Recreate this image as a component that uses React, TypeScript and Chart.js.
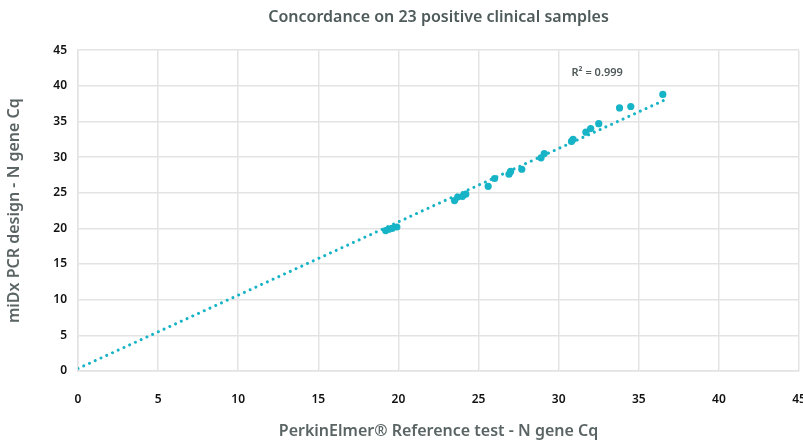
import React, { useEffect, useRef } from "react";
import { Chart, registerables } from "chart.js";

Chart.register(...registerables);

const refX = [19.2, 19.4, 19.6, 19.9, 23.5, 23.7, 24.0, 24.2, 25.6, 26.0, 26.9, 27.0, 27.7, 28.9, 29.1, 30.8, 30.9, 31.7, 32.0, 32.5, 33.8, 34.5, 36.5];
const midxY = [19.7, 19.9, 20.0, 20.2, 23.9, 24.4, 24.5, 24.8, 25.9, 27.0, 27.6, 28.0, 28.3, 29.9, 30.5, 32.2, 32.5, 33.5, 34.0, 34.7, 36.9, 37.1, 38.8];
const trendX = [0, 36.6];
const trendY = [0.35, 38.0];
const axisTicks = [0, 5, 10, 15, 20, 25, 30, 35, 40, 45];
const r2Label = "R² = 0.999";
const r2Pos = { x: 32.4, y: 41.8 };

const FONT = "'Noto Sans', 'DejaVu Sans', sans-serif";
const TEAL = "#17b3c6";

export default function App() {
  const ref = useRef<HTMLCanvasElement | null>(null);
  useEffect(() => {
    document.body.style.margin = "0";
    const ctx = ref.current!;
    const r2Plugin = {
      id: "r2",
      afterDatasetsDraw(chart: any) {
        const c = chart.ctx;
        const xs = chart.scales.x;
        const ys = chart.scales.y;
        c.save();
        c.font = `600 11px ${FONT}`;
        c.fillStyle = "#505a5a";
        c.textAlign = "center";
        c.textBaseline = "middle";
        c.fillText(r2Label, xs.getPixelForValue(r2Pos.x), ys.getPixelForValue(r2Pos.y));
        c.restore();
      },
    };
    const chart = new Chart(ctx, {
      type: "scatter",
      data: {
        datasets: [
          {
            type: "line",
            data: trendX.map((x, i) => ({ x, y: trendY[i] })),
            borderColor: TEAL,
            borderWidth: 3,
            borderDash: [0.01, 6.3],
            borderCapStyle: "round",
            pointRadius: 0,
            fill: false,
            order: 2,
          } as any,
          {
            data: refX.map((x, i) => ({ x, y: midxY[i] })),
            backgroundColor: TEAL,
            borderColor: TEAL,
            pointRadius: 3.6,
            borderWidth: 0,
            order: 1,
          },
        ],
      },
      options: {
        animation: false,
        responsive: false,
        maintainAspectRatio: false,
        layout: { padding: { left: 0, right: 0, top: 0, bottom: 0 } },
        plugins: {
          legend: { display: false },
          tooltip: { enabled: false },
          title: {
            display: true,
            fullSize: false,
            text: "Concordance on 23 positive clinical samples",
            color: "#4f5b5b",
            font: { family: FONT, size: 16, weight: "600" },
            padding: { top: 8, bottom: 23 },
          },
        },
        scales: {
          x: {
            type: "linear",
            min: 0,
            max: 45,
            afterBuildTicks: (s: any) => {
              s.ticks = axisTicks.map((v) => ({ value: v }));
            },
            afterFit: (s: any) => {
              s.height = 70;
              s.paddingRight = 0;
              s.paddingLeft = 0;
            },
            grid: { color: "#e3e3e3", lineWidth: 1.5, drawTicks: false },
            border: { color: "#e3e3e3", width: 1.5 },
            ticks: {
              color: "#111",
              padding: 21,
              maxRotation: 0,
              font: { family: FONT, size: 12, weight: "600" },
            },
            title: {
              display: true,
              text: "PerkinElmer® Reference test - N gene Cq",
              color: "#5a6464",
              font: { family: FONT, size: 16, weight: "600" },
              padding: { top: 10, bottom: 0 },
            },
          },
          y: {
            type: "linear",
            min: 0,
            max: 45,
            afterBuildTicks: (s: any) => {
              s.ticks = axisTicks.map((v) => ({ value: v }));
            },
            afterFit: (s: any) => {
              s.width = 78;
              s.paddingTop = 0;
              s.paddingBottom = 0;
            },
            grid: { color: "#e3e3e3", lineWidth: 1.5, drawTicks: false },
            border: { color: "#e3e3e3", width: 1.5 },
            ticks: {
              color: "#111",
              padding: 11,
              font: { family: FONT, size: 12, weight: "600" },
            },
            title: {
              display: true,
              text: "miDx PCR design - N gene Cq",
              color: "#5a6464",
              font: { family: FONT, size: 16, weight: "600" },
              padding: { top: 5, bottom: 0 },
            },
          },
        },
      } as any,
      plugins: [r2Plugin],
    });
    return () => chart.destroy();
  }, []);
  return (
    <div style={{ width: 803, height: 441 }}>
      <canvas ref={ref} width={803} height={441} style={{ display: "block" }} />
    </div>
  );
}
